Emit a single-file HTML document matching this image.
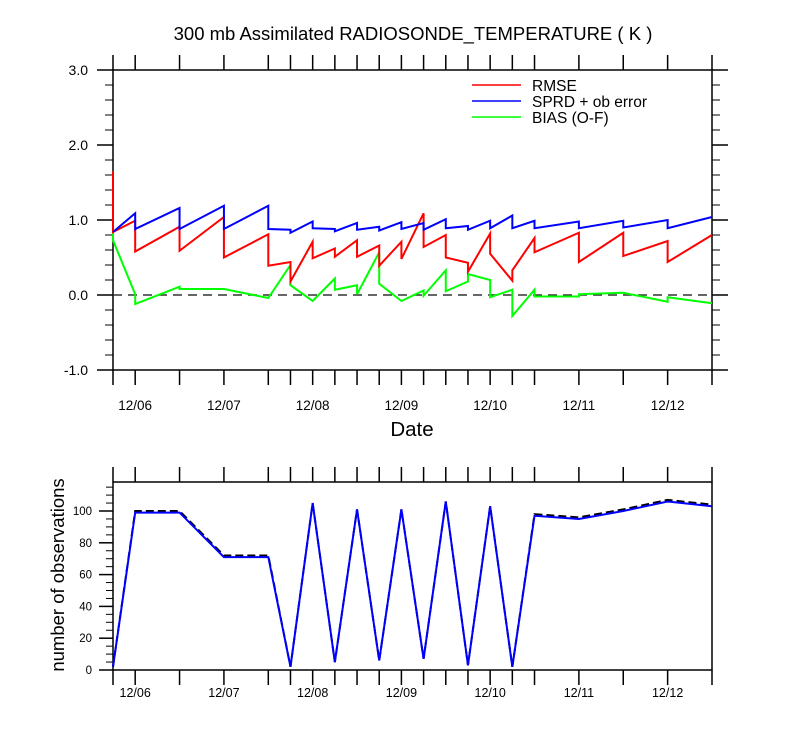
<!DOCTYPE html>
<html><head><meta charset="utf-8"><style>
html,body{margin:0;padding:0;background:#fff}
svg{display:block;font-family:"Liberation Sans",sans-serif}
</style></head><body>
<svg id="c" width="800" height="750" viewBox="0 0 800 750">
<text x="413" y="40" text-anchor="middle" font-size="18.5">300 mb Assimilated RADIOSONDE_TEMPERATURE ( K )</text>
<text x="412" y="436" text-anchor="middle" font-size="20.5">Date</text>
<text transform="translate(64,575) rotate(-90)" text-anchor="middle" font-size="18.5">number of observations</text>
<g>
<line x1="472" y1="85" x2="521" y2="85" stroke="#f00" stroke-width="1.5"/>
<text x="532" y="91" font-size="15.5">RMSE</text>
<line x1="472" y1="101" x2="521" y2="101" stroke="#00f" stroke-width="1.5"/>
<text x="532" y="107" font-size="15.5">SPRD + ob error</text>
<line x1="472" y1="117" x2="521" y2="117" stroke="#0f0" stroke-width="1.5"/>
<text x="532" y="123" font-size="15.5">BIAS (O-F)</text>
</g>
</svg>
<script>
// time in days relative to 12/06 00Z; duplicated times mark sawtooth jumps
const topTimes = [-0.25,-0.25,0,0,0.5,0.5,1,1,1.5,1.5,1.75,1.75,2,2,2.25,2.25,2.5,2.5,2.75,2.75,3,3,3.25,3.25,3.5,3.5,3.75,3.75,4,4,4.25,4.25,4.5,4.5,5,5,5.5,5.5,6,6,6.5];
const rmse = [1.65,0.84,0.99,0.58,0.91,0.59,1.04,0.50,0.81,0.39,0.44,0.18,0.71,0.49,0.62,0.51,0.73,0.51,0.66,0.39,0.71,0.48,1.09,0.64,0.80,0.50,0.43,0.31,0.82,0.55,0.19,0.33,0.76,0.57,0.83,0.44,0.83,0.52,0.72,0.44,0.80];
const sprd = [0.84,0.84,1.09,0.88,1.16,0.88,1.19,0.88,1.19,0.88,0.87,0.83,0.98,0.89,0.88,0.85,0.96,0.87,0.91,0.86,0.97,0.88,0.96,0.87,1.01,0.89,0.92,0.87,0.99,0.89,1.06,0.89,0.99,0.89,0.98,0.89,0.99,0.90,1.00,0.89,1.04];
const bias = [1.65,0.73,0.01,-0.12,0.11,0.08,0.08,0.08,-0.04,-0.04,0.40,0.13,-0.08,-0.08,0.22,0.07,0.13,0.01,0.57,0.15,-0.08,-0.08,0.06,-0.01,0.33,0.05,0.18,0.28,0.20,-0.03,0.07,-0.28,0.07,-0.02,-0.02,0.01,0.03,0.03,-0.09,-0.03,-0.11];
const obsTimes = [-0.25,0,0.5,1,1.5,1.75,2,2.25,2.5,2.75,3,3.25,3.5,3.75,4,4.25,4.5,5,5.5,6,6.5];
const obsUsed = [2,99,99,71,71,2,105,5,101,6,101,7,106,3,103,2,97,95,100,106,103];
const obsTotal = [2,100,100,72,72,2,105,5,101,6,101,7,106,3,103,2,98,96,101,107,104];
const dateLabels = ["12/06","12/07","12/08","12/09","12/10","12/11","12/12"];
const topYTicks = ["-1.0","0.0","1.0","2.0","3.0"];
const botYTicks = ["0","20","40","60","80","100"];

const NS="http://www.w3.org/2000/svg", svg=document.getElementById('c');
const X0=113,X1=712,T0=-0.25,T1=6.5;
const x=t=>X0+(t-T0)/(T1-T0)*(X1-X0);
const yT=v=>295-v*75;
const yB=v=>670-v*1.59;
function mk(tag,a,parent){const e=document.createElementNS(NS,tag);for(const k in a)e.setAttribute(k,a[k]);(parent||svg).appendChild(e);return e;}
function ln(x1,y1,x2,y2,p,sw){return mk('line',{x1,y1,x2,y2,stroke:'#000','stroke-width':sw||1.5},p);}

function panel(top,bot,name){
  const g=mk('g',{});
  
  
  mk('rect',{x:X0,y:top,width:X1-X0,height:bot-top,fill:'none',stroke:'#000','stroke-width':1.5},g);
  obsTimes.forEach(t=>{ln(x(t),top,x(t),top-15,g);ln(x(t),bot,x(t),bot+15,g);});
  dateLabels.forEach((d,i)=>{
    const tx=mk('text',{x:x(i),y:bot+(name==='top-panel'?40:27),'text-anchor':'middle','font-size':name==='top-panel'?13.5:12.5},svg);
    
    
    tx.textContent=d;
  });
  return g;
}
const gt=panel(70,370,'top-panel');
for(let v=-1;v<=3.001;v+=0.2){const yy=yT(v),maj=Math.abs(v-Math.round(v))<1e-6;
  if(maj){ln(X0,yy,X0-16,yy,gt);ln(X1,yy,X1+16,yy,gt);}else{ln(X0,yy,X0-8,yy,gt,1);ln(X1,yy,X1+8,yy,gt,1);}}
topYTicks.forEach(s=>{const t=mk('text',{x:88,y:yT(+s)+5,'text-anchor':'end','font-size':14});
  
  
  t.textContent=s;});
const zl=mk('line',{x1:X0,y1:yT(0),x2:X1,y2:yT(0),stroke:'#333','stroke-width':1.5,'stroke-dasharray':'9,6'});


function series(ts,vals,fy,color,name,extra){
  const p=mk('polyline',Object.assign({points:ts.map((t,i)=>x(t)+','+fy(vals[i])).join(' '),fill:'none',stroke:color,'stroke-width':2,'stroke-linejoin':'miter'},extra||{}));
  
  
}
series(topTimes,bias,yT,'#0f0','bias-line');
series(topTimes,rmse,yT,'#f00','rmse-line');
series(topTimes,sprd,yT,'#00f','sprd-line');
const gb=panel(482,670,'bottom-panel');
for(let v=0;v<=115;v+=5){const yy=yB(v);
  if(v%20===0)ln(X0,yy,X0-14,yy,gb);else ln(X0,yy,X0-7,yy,gb,1);}
botYTicks.forEach(s=>{const t=mk('text',{x:92,y:yB(+s)+4,'text-anchor':'end','font-size':11.5});
  
  
  t.textContent=s;});
series(obsTimes,obsTotal,yB,'#000','obs-total-line',{'stroke-dasharray':'8,4'});
series(obsTimes,obsUsed,yB,'#00f','obs-used-line');
</script>
</body></html>
